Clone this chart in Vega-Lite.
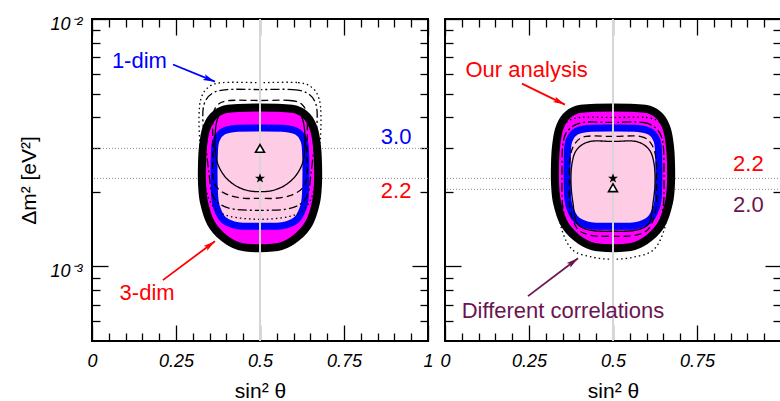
{
  "$schema": "https://vega.github.io/schema/vega-lite/v6.json",
  "background": "white",
  "padding": {"left": 17, "top": 14, "right": 0, "bottom": 0},
  "spacing": 17,
  "bounds": "flush",
  "config": {
    "view": {"stroke": "black", "strokeWidth": 2},
    "axis": {"domain": false, "grid": false, "ticks": true, "tickColor": "black", "tickWidth": 1.3, "labelFont": "Liberation Sans", "labelFontStyle": "italic", "labelFontSize": 18, "labelColor": "black", "labelOverlap": false, "labelFlush": false, "titleFont": "Liberation Sans", "titleFontSize": 21, "titleFontWeight": "normal", "titleColor": "black"},
    "text": {"font": "Liberation Sans"}
  },
  "datasets": {
    "hl": [{"p": "L", "y": 0.003}, {"p": "L", "y": 0.00227}, {"p": "R", "y": 0.00227}, {"p": "R", "y": 0.00205}],
    "mk": [{"p": "L", "k": "tri", "x": 0.5, "y": 0.003}, {"p": "L", "k": "star", "x": 0.5, "y": 0.00227}, {"p": "R", "k": "star", "x": 0.5, "y": 0.00227}, {"p": "R", "k": "tri", "x": 0.5, "y": 0.00208}],
    "ar": [
      {"p": "L", "g": "1-dim", "x": 0.241, "y": 0.00655, "x2": 0.366, "y2": 0.00558},
      {"p": "L", "g": "3-dim", "x": 0.211, "y": 0.000881, "x2": 0.366, "y2": 0.001265},
      {"p": "R", "g": "ours", "x": 0.229, "y": 0.00548, "x2": 0.357, "y2": 0.00451},
      {"p": "R", "g": "diff", "x": 0.247, "y": 0.000759, "x2": 0.396, "y2": 0.00108}
    ],
    "tx": [
      {"p": "L", "g": "1-dim", "t": "1-dim", "x": 0.141, "y": 0.00679},
      {"p": "L", "g": "1-dim", "t": "3.0", "x": 0.905, "y": 0.00335},
      {"p": "L", "g": "3-dim", "t": "2.2", "x": 0.905, "y": 0.00201},
      {"p": "L", "g": "3-dim", "t": "3-dim", "x": 0.164, "y": 0.00078},
      {"p": "R", "g": "ours", "t": "Our analysis", "x": 0.243, "y": 0.00625},
      {"p": "R", "g": "ours", "t": "2.2", "x": 0.903, "y": 0.002585},
      {"p": "R", "g": "diff", "t": "2.0", "x": 0.903, "y": 0.001766},
      {"p": "R", "g": "diff", "t": "Different correlations", "x": 0.351, "y": 0.00066}
    ],
    "ct": [
      {"p": "L", "c": "o", "i": 1, "x": 0.5, "y": 0.004388},
      {"p": "L", "c": "o", "i": 2, "x": 0.5655, "y": 0.004368},
      {"p": "L", "c": "o", "i": 3, "x": 0.6071, "y": 0.004308},
      {"p": "L", "c": "o", "i": 4, "x": 0.6399, "y": 0.004036},
      {"p": "L", "c": "o", "i": 5, "x": 0.6607, "y": 0.003578},
      {"p": "L", "c": "o", "i": 6, "x": 0.6696, "y": 0.003055},
      {"p": "L", "c": "o", "i": 7, "x": 0.6726, "y": 0.002609},
      {"p": "L", "c": "o", "i": 8, "x": 0.6726, "y": 0.002168},
      {"p": "L", "c": "o", "i": 9, "x": 0.6667, "y": 0.001817},
      {"p": "L", "c": "o", "i": 10, "x": 0.6458, "y": 0.001495},
      {"p": "L", "c": "o", "i": 11, "x": 0.6101, "y": 0.001313},
      {"p": "L", "c": "o", "i": 12, "x": 0.5625, "y": 0.001207},
      {"p": "L", "c": "o", "i": 13, "x": 0.5, "y": 0.001185},
      {"p": "L", "c": "o", "i": 14, "x": 0.4375, "y": 0.001207},
      {"p": "L", "c": "o", "i": 15, "x": 0.3899, "y": 0.001313},
      {"p": "L", "c": "o", "i": 16, "x": 0.3542, "y": 0.001495},
      {"p": "L", "c": "o", "i": 17, "x": 0.3333, "y": 0.001817},
      {"p": "L", "c": "o", "i": 18, "x": 0.3274, "y": 0.002168},
      {"p": "L", "c": "o", "i": 19, "x": 0.3274, "y": 0.002609},
      {"p": "L", "c": "o", "i": 20, "x": 0.3304, "y": 0.003055},
      {"p": "L", "c": "o", "i": 21, "x": 0.3393, "y": 0.003578},
      {"p": "L", "c": "o", "i": 22, "x": 0.3601, "y": 0.004036},
      {"p": "L", "c": "o", "i": 23, "x": 0.3929, "y": 0.004308},
      {"p": "L", "c": "o", "i": 24, "x": 0.4345, "y": 0.004368},
      {"p": "R", "c": "o", "i": 1, "x": 0.5, "y": 0.004388},
      {"p": "R", "c": "o", "i": 2, "x": 0.5655, "y": 0.004368},
      {"p": "R", "c": "o", "i": 3, "x": 0.6071, "y": 0.004308},
      {"p": "R", "c": "o", "i": 4, "x": 0.6399, "y": 0.004036},
      {"p": "R", "c": "o", "i": 5, "x": 0.6607, "y": 0.003578},
      {"p": "R", "c": "o", "i": 6, "x": 0.6696, "y": 0.003055},
      {"p": "R", "c": "o", "i": 7, "x": 0.6726, "y": 0.002609},
      {"p": "R", "c": "o", "i": 8, "x": 0.6726, "y": 0.002168},
      {"p": "R", "c": "o", "i": 9, "x": 0.6667, "y": 0.001817},
      {"p": "R", "c": "o", "i": 10, "x": 0.6458, "y": 0.001495},
      {"p": "R", "c": "o", "i": 11, "x": 0.6101, "y": 0.001313},
      {"p": "R", "c": "o", "i": 12, "x": 0.5625, "y": 0.001207},
      {"p": "R", "c": "o", "i": 13, "x": 0.5, "y": 0.001185},
      {"p": "R", "c": "o", "i": 14, "x": 0.4375, "y": 0.001207},
      {"p": "R", "c": "o", "i": 15, "x": 0.3899, "y": 0.001313},
      {"p": "R", "c": "o", "i": 16, "x": 0.3542, "y": 0.001495},
      {"p": "R", "c": "o", "i": 17, "x": 0.3333, "y": 0.001817},
      {"p": "R", "c": "o", "i": 18, "x": 0.3274, "y": 0.002168},
      {"p": "R", "c": "o", "i": 19, "x": 0.3274, "y": 0.002609},
      {"p": "R", "c": "o", "i": 20, "x": 0.3304, "y": 0.003055},
      {"p": "R", "c": "o", "i": 21, "x": 0.3393, "y": 0.003578},
      {"p": "R", "c": "o", "i": 22, "x": 0.3601, "y": 0.004036},
      {"p": "R", "c": "o", "i": 23, "x": 0.3929, "y": 0.004308},
      {"p": "R", "c": "o", "i": 24, "x": 0.4345, "y": 0.004368},
      {"p": "L", "c": "b", "i": 1, "x": 0.5, "y": 0.003628},
      {"p": "L", "c": "b", "i": 2, "x": 0.5744, "y": 0.003612},
      {"p": "L", "c": "b", "i": 3, "x": 0.6101, "y": 0.003513},
      {"p": "L", "c": "b", "i": 4, "x": 0.628, "y": 0.003292},
      {"p": "L", "c": "b", "i": 5, "x": 0.6354, "y": 0.002944},
      {"p": "L", "c": "b", "i": 6, "x": 0.6354, "y": 0.00197},
      {"p": "L", "c": "b", "i": 7, "x": 0.628, "y": 0.001718},
      {"p": "L", "c": "b", "i": 8, "x": 0.6071, "y": 0.001537},
      {"p": "L", "c": "b", "i": 9, "x": 0.5655, "y": 0.001461},
      {"p": "L", "c": "b", "i": 10, "x": 0.5, "y": 0.001454},
      {"p": "L", "c": "b", "i": 11, "x": 0.4345, "y": 0.001461},
      {"p": "L", "c": "b", "i": 12, "x": 0.3929, "y": 0.001537},
      {"p": "L", "c": "b", "i": 13, "x": 0.372, "y": 0.001718},
      {"p": "L", "c": "b", "i": 14, "x": 0.3646, "y": 0.00197},
      {"p": "L", "c": "b", "i": 15, "x": 0.3646, "y": 0.002944},
      {"p": "L", "c": "b", "i": 16, "x": 0.372, "y": 0.003292},
      {"p": "L", "c": "b", "i": 17, "x": 0.3899, "y": 0.003513},
      {"p": "L", "c": "b", "i": 18, "x": 0.4256, "y": 0.003612},
      {"p": "R", "c": "b", "i": 1, "x": 0.5, "y": 0.003628},
      {"p": "R", "c": "b", "i": 2, "x": 0.5744, "y": 0.003612},
      {"p": "R", "c": "b", "i": 3, "x": 0.6101, "y": 0.003513},
      {"p": "R", "c": "b", "i": 4, "x": 0.628, "y": 0.003292},
      {"p": "R", "c": "b", "i": 5, "x": 0.6354, "y": 0.002944},
      {"p": "R", "c": "b", "i": 6, "x": 0.6354, "y": 0.00197},
      {"p": "R", "c": "b", "i": 7, "x": 0.628, "y": 0.001718},
      {"p": "R", "c": "b", "i": 8, "x": 0.6071, "y": 0.001537},
      {"p": "R", "c": "b", "i": 9, "x": 0.5655, "y": 0.001461},
      {"p": "R", "c": "b", "i": 10, "x": 0.5, "y": 0.001454},
      {"p": "R", "c": "b", "i": 11, "x": 0.4345, "y": 0.001461},
      {"p": "R", "c": "b", "i": 12, "x": 0.3929, "y": 0.001537},
      {"p": "R", "c": "b", "i": 13, "x": 0.372, "y": 0.001718},
      {"p": "R", "c": "b", "i": 14, "x": 0.3646, "y": 0.00197},
      {"p": "R", "c": "b", "i": 15, "x": 0.3646, "y": 0.002944},
      {"p": "R", "c": "b", "i": 16, "x": 0.372, "y": 0.003292},
      {"p": "R", "c": "b", "i": 17, "x": 0.3899, "y": 0.003513},
      {"p": "R", "c": "b", "i": 18, "x": 0.4256, "y": 0.003612},
      {"p": "L", "c": "solid", "i": 1, "x": 0.5, "y": 0.004347},
      {"p": "L", "c": "solid", "i": 2, "x": 0.5893, "y": 0.004308},
      {"p": "L", "c": "solid", "i": 3, "x": 0.619, "y": 0.004113},
      {"p": "L", "c": "solid", "i": 4, "x": 0.631, "y": 0.003714},
      {"p": "L", "c": "solid", "i": 5, "x": 0.6339, "y": 0.003142},
      {"p": "L", "c": "solid", "i": 6, "x": 0.628, "y": 0.002658},
      {"p": "L", "c": "solid", "i": 7, "x": 0.6071, "y": 0.002334},
      {"p": "L", "c": "solid", "i": 8, "x": 0.5744, "y": 0.002128},
      {"p": "L", "c": "solid", "i": 9, "x": 0.5357, "y": 0.002026},
      {"p": "L", "c": "solid", "i": 10, "x": 0.5, "y": 0.002007},
      {"p": "L", "c": "solid", "i": 11, "x": 0.4643, "y": 0.002026},
      {"p": "L", "c": "solid", "i": 12, "x": 0.4256, "y": 0.002128},
      {"p": "L", "c": "solid", "i": 13, "x": 0.3929, "y": 0.002334},
      {"p": "L", "c": "solid", "i": 14, "x": 0.372, "y": 0.002658},
      {"p": "L", "c": "solid", "i": 15, "x": 0.3661, "y": 0.003142},
      {"p": "L", "c": "solid", "i": 16, "x": 0.369, "y": 0.003714},
      {"p": "L", "c": "solid", "i": 17, "x": 0.381, "y": 0.004113},
      {"p": "L", "c": "solid", "i": 18, "x": 0.4107, "y": 0.004308},
      {"p": "L", "c": "dashed", "i": 1, "x": 0.5, "y": 0.004685},
      {"p": "L", "c": "dashed", "i": 2, "x": 0.5893, "y": 0.004685},
      {"p": "L", "c": "dashed", "i": 3, "x": 0.625, "y": 0.004512},
      {"p": "L", "c": "dashed", "i": 4, "x": 0.6399, "y": 0.004036},
      {"p": "L", "c": "dashed", "i": 5, "x": 0.6399, "y": 0.002999},
      {"p": "L", "c": "dashed", "i": 6, "x": 0.6399, "y": 0.002313},
      {"p": "L", "c": "dashed", "i": 7, "x": 0.625, "y": 0.002064},
      {"p": "L", "c": "dashed", "i": 8, "x": 0.5893, "y": 0.001934},
      {"p": "L", "c": "dashed", "i": 9, "x": 0.5446, "y": 0.001886},
      {"p": "L", "c": "dashed", "i": 10, "x": 0.5, "y": 0.001886},
      {"p": "L", "c": "dashed", "i": 11, "x": 0.4554, "y": 0.001886},
      {"p": "L", "c": "dashed", "i": 12, "x": 0.4107, "y": 0.001934},
      {"p": "L", "c": "dashed", "i": 13, "x": 0.375, "y": 0.002064},
      {"p": "L", "c": "dashed", "i": 14, "x": 0.3601, "y": 0.002313},
      {"p": "L", "c": "dashed", "i": 15, "x": 0.3601, "y": 0.002999},
      {"p": "L", "c": "dashed", "i": 16, "x": 0.3601, "y": 0.004036},
      {"p": "L", "c": "dashed", "i": 17, "x": 0.375, "y": 0.004512},
      {"p": "L", "c": "dashed", "i": 18, "x": 0.4107, "y": 0.004685},
      {"p": "L", "c": "dashdot", "i": 1, "x": 0.5, "y": 0.005187},
      {"p": "L", "c": "dashdot", "i": 2, "x": 0.5982, "y": 0.005187},
      {"p": "L", "c": "dashdot", "i": 3, "x": 0.6429, "y": 0.004998},
      {"p": "L", "c": "dashdot", "i": 4, "x": 0.6667, "y": 0.004512},
      {"p": "L", "c": "dashdot", "i": 5, "x": 0.6696, "y": 0.003784},
      {"p": "L", "c": "dashdot", "i": 6, "x": 0.6607, "y": 0.002999},
      {"p": "L", "c": "dashdot", "i": 7, "x": 0.6518, "y": 0.002378},
      {"p": "L", "c": "dashdot", "i": 8, "x": 0.6429, "y": 0.00197},
      {"p": "L", "c": "dashdot", "i": 9, "x": 0.619, "y": 0.001784},
      {"p": "L", "c": "dashdot", "i": 10, "x": 0.5744, "y": 0.001702},
      {"p": "L", "c": "dashdot", "i": 11, "x": 0.5, "y": 0.001687},
      {"p": "L", "c": "dashdot", "i": 12, "x": 0.4256, "y": 0.001702},
      {"p": "L", "c": "dashdot", "i": 13, "x": 0.381, "y": 0.001784},
      {"p": "L", "c": "dashdot", "i": 14, "x": 0.3571, "y": 0.00197},
      {"p": "L", "c": "dashdot", "i": 15, "x": 0.3482, "y": 0.002378},
      {"p": "L", "c": "dashdot", "i": 16, "x": 0.3393, "y": 0.002999},
      {"p": "L", "c": "dashdot", "i": 17, "x": 0.3304, "y": 0.003784},
      {"p": "L", "c": "dashdot", "i": 18, "x": 0.3333, "y": 0.004512},
      {"p": "L", "c": "dashdot", "i": 19, "x": 0.3571, "y": 0.004998},
      {"p": "L", "c": "dashdot", "i": 20, "x": 0.4018, "y": 0.005187},
      {"p": "L", "c": "dotted", "i": 1, "x": 0.5, "y": 0.005533},
      {"p": "L", "c": "dotted", "i": 2, "x": 0.6131, "y": 0.005533},
      {"p": "L", "c": "dotted", "i": 3, "x": 0.6548, "y": 0.005284},
      {"p": "L", "c": "dotted", "i": 4, "x": 0.6756, "y": 0.004771},
      {"p": "L", "c": "dotted", "i": 5, "x": 0.6815, "y": 0.004036},
      {"p": "L", "c": "dotted", "i": 6, "x": 0.6786, "y": 0.003142},
      {"p": "L", "c": "dotted", "i": 7, "x": 0.6696, "y": 0.002491},
      {"p": "L", "c": "dotted", "i": 8, "x": 0.6577, "y": 0.00197},
      {"p": "L", "c": "dotted", "i": 9, "x": 0.6339, "y": 0.001718},
      {"p": "L", "c": "dotted", "i": 10, "x": 0.5893, "y": 0.001595},
      {"p": "L", "c": "dotted", "i": 11, "x": 0.5, "y": 0.001551},
      {"p": "L", "c": "dotted", "i": 12, "x": 0.4107, "y": 0.001595},
      {"p": "L", "c": "dotted", "i": 13, "x": 0.3661, "y": 0.001718},
      {"p": "L", "c": "dotted", "i": 14, "x": 0.3423, "y": 0.00197},
      {"p": "L", "c": "dotted", "i": 15, "x": 0.3304, "y": 0.002491},
      {"p": "L", "c": "dotted", "i": 16, "x": 0.3214, "y": 0.003142},
      {"p": "L", "c": "dotted", "i": 17, "x": 0.3185, "y": 0.004036},
      {"p": "L", "c": "dotted", "i": 18, "x": 0.3244, "y": 0.004771},
      {"p": "L", "c": "dotted", "i": 19, "x": 0.3452, "y": 0.005284},
      {"p": "L", "c": "dotted", "i": 20, "x": 0.3869, "y": 0.005533},
      {"p": "R", "c": "solid", "i": 1, "x": 0.5, "y": 0.0032},
      {"p": "R", "c": "solid", "i": 2, "x": 0.5685, "y": 0.0032},
      {"p": "R", "c": "solid", "i": 3, "x": 0.6071, "y": 0.002972},
      {"p": "R", "c": "solid", "i": 4, "x": 0.622, "y": 0.002609},
      {"p": "R", "c": "solid", "i": 5, "x": 0.625, "y": 0.002168},
      {"p": "R", "c": "solid", "i": 6, "x": 0.619, "y": 0.0018},
      {"p": "R", "c": "solid", "i": 7, "x": 0.6071, "y": 0.001495},
      {"p": "R", "c": "solid", "i": 8, "x": 0.5655, "y": 0.001401},
      {"p": "R", "c": "solid", "i": 9, "x": 0.5, "y": 0.001388},
      {"p": "R", "c": "solid", "i": 10, "x": 0.4345, "y": 0.001401},
      {"p": "R", "c": "solid", "i": 11, "x": 0.3929, "y": 0.001495},
      {"p": "R", "c": "solid", "i": 12, "x": 0.381, "y": 0.0018},
      {"p": "R", "c": "solid", "i": 13, "x": 0.375, "y": 0.002168},
      {"p": "R", "c": "solid", "i": 14, "x": 0.378, "y": 0.002609},
      {"p": "R", "c": "solid", "i": 15, "x": 0.3929, "y": 0.002972},
      {"p": "R", "c": "solid", "i": 16, "x": 0.4315, "y": 0.0032},
      {"p": "R", "c": "dashed", "i": 1, "x": 0.5, "y": 0.003353},
      {"p": "R", "c": "dashed", "i": 2, "x": 0.5804, "y": 0.003353},
      {"p": "R", "c": "dashed", "i": 3, "x": 0.6131, "y": 0.003142},
      {"p": "R", "c": "dashed", "i": 4, "x": 0.628, "y": 0.002733},
      {"p": "R", "c": "dashed", "i": 5, "x": 0.6295, "y": 0.002168},
      {"p": "R", "c": "dashed", "i": 6, "x": 0.628, "y": 0.001718},
      {"p": "R", "c": "dashed", "i": 7, "x": 0.6071, "y": 0.001427},
      {"p": "R", "c": "dashed", "i": 8, "x": 0.5655, "y": 0.001337},
      {"p": "R", "c": "dashed", "i": 9, "x": 0.5, "y": 0.001325},
      {"p": "R", "c": "dashed", "i": 10, "x": 0.4345, "y": 0.001337},
      {"p": "R", "c": "dashed", "i": 11, "x": 0.3929, "y": 0.001427},
      {"p": "R", "c": "dashed", "i": 12, "x": 0.372, "y": 0.001718},
      {"p": "R", "c": "dashed", "i": 13, "x": 0.3705, "y": 0.002168},
      {"p": "R", "c": "dashed", "i": 14, "x": 0.372, "y": 0.002733},
      {"p": "R", "c": "dashed", "i": 15, "x": 0.3869, "y": 0.003142},
      {"p": "R", "c": "dashed", "i": 16, "x": 0.4196, "y": 0.003353},
      {"p": "R", "c": "dashdot", "i": 1, "x": 0.5, "y": 0.003819},
      {"p": "R", "c": "dashdot", "i": 2, "x": 0.5893, "y": 0.003819},
      {"p": "R", "c": "dashdot", "i": 3, "x": 0.631, "y": 0.003578},
      {"p": "R", "c": "dashdot", "i": 4, "x": 0.6488, "y": 0.003142},
      {"p": "R", "c": "dashdot", "i": 5, "x": 0.6518, "y": 0.00227},
      {"p": "R", "c": "dashdot", "i": 6, "x": 0.6488, "y": 0.001718},
      {"p": "R", "c": "dashdot", "i": 7, "x": 0.628, "y": 0.001401},
      {"p": "R", "c": "dashdot", "i": 8, "x": 0.5833, "y": 0.001253},
      {"p": "R", "c": "dashdot", "i": 9, "x": 0.5, "y": 0.001219},
      {"p": "R", "c": "dashdot", "i": 10, "x": 0.4167, "y": 0.001253},
      {"p": "R", "c": "dashdot", "i": 11, "x": 0.372, "y": 0.001401},
      {"p": "R", "c": "dashdot", "i": 12, "x": 0.3512, "y": 0.001718},
      {"p": "R", "c": "dashdot", "i": 13, "x": 0.3482, "y": 0.00227},
      {"p": "R", "c": "dashdot", "i": 14, "x": 0.3512, "y": 0.003142},
      {"p": "R", "c": "dashdot", "i": 15, "x": 0.369, "y": 0.003578},
      {"p": "R", "c": "dashdot", "i": 16, "x": 0.4107, "y": 0.003819},
      {"p": "R", "c": "dotted", "i": 1, "x": 0.5, "y": 0.004},
      {"p": "R", "c": "dotted", "i": 2, "x": 0.5982, "y": 0.004},
      {"p": "R", "c": "dotted", "i": 3, "x": 0.6429, "y": 0.003784},
      {"p": "R", "c": "dotted", "i": 4, "x": 0.6607, "y": 0.003292},
      {"p": "R", "c": "dotted", "i": 5, "x": 0.6637, "y": 0.002491},
      {"p": "R", "c": "dotted", "i": 6, "x": 0.6637, "y": 0.0018},
      {"p": "R", "c": "dotted", "i": 7, "x": 0.6518, "y": 0.001401},
      {"p": "R", "c": "dotted", "i": 8, "x": 0.619, "y": 0.001163},
      {"p": "R", "c": "dotted", "i": 9, "x": 0.5595, "y": 0.00109},
      {"p": "R", "c": "dotted", "i": 10, "x": 0.5, "y": 0.00107},
      {"p": "R", "c": "dotted", "i": 11, "x": 0.4405, "y": 0.00109},
      {"p": "R", "c": "dotted", "i": 12, "x": 0.381, "y": 0.001163},
      {"p": "R", "c": "dotted", "i": 13, "x": 0.3482, "y": 0.001401},
      {"p": "R", "c": "dotted", "i": 14, "x": 0.3363, "y": 0.0018},
      {"p": "R", "c": "dotted", "i": 15, "x": 0.3363, "y": 0.002491},
      {"p": "R", "c": "dotted", "i": 16, "x": 0.3393, "y": 0.003292},
      {"p": "R", "c": "dotted", "i": 17, "x": 0.3571, "y": 0.003784},
      {"p": "R", "c": "dotted", "i": 18, "x": 0.4018, "y": 0.004}
    ]
  },
  "hconcat": [
    {
      "width": 336, "height": 322,
      "resolve": {"axis": {"x": "independent", "y": "independent"}},
      "layer": [
        {"data": {"name": "hl"}, "transform": [{"filter": "datum.p == 'L'"}],
         "mark": {"type": "rule", "stroke": "#8c8c8c", "strokeWidth": 1, "strokeDash": [1, 2]},
         "encoding": {"y": {"field": "y", "type": "quantitative", "scale": {"type": "log", "domain": [0.0005, 0.01], "nice": false}, "axis": null}}},
        {"data": {"name": "ct"}, "transform": [{"filter": "datum.p == 'L' && datum.c == 'o'"}],
         "mark": {"type": "line", "interpolate": "cardinal-closed", "stroke": "black", "strokeWidth": 8, "fill": "#ff00ff", "strokeJoin": "round"},
         "encoding": {
           "x": {"field": "x", "type": "quantitative", "scale": {"domain": [0, 1], "nice": false, "zero": false},
                 "axis": {"orient": "bottom", "values": [0, 0.25, 0.5, 0.75, 1], "labelExpr": "datum.value + ''", "offset": -16, "tickSize": 16, "labelPadding": 11, "title": "sin² θ", "titlePadding": 10}},
           "y": {"field": "y", "type": "quantitative", "scale": {"type": "log", "domain": [0.0005, 0.01], "nice": false},
                 "axis": {"orient": "left", "values": [0.001, 0.01], "labelExpr": "datum.value == 0.01 ? '10⁻²' : '10⁻³'", "offset": -16, "tickSize": 16, "labelPadding": 10, "labelOffset": 5, "title": "Δm² [eV²]", "titlePadding": 10}},
           "order": {"field": "i", "type": "quantitative"}}},
        {"data": {"name": "ct"}, "transform": [{"filter": "datum.p == 'L' && datum.c == 'b'"}],
         "mark": {"type": "line", "interpolate": "cardinal-closed", "stroke": "#0000ff", "strokeWidth": 7, "fill": "#ffcce6", "strokeJoin": "round"},
         "encoding": {
           "x": {"field": "x", "type": "quantitative", "scale": {"domain": [0, 1], "nice": false, "zero": false},
                 "axis": {"orient": "top", "values": [0, 0.25, 0.5, 0.75, 1], "labels": false, "offset": -16, "tickSize": 16, "title": null}},
           "y": {"field": "y", "type": "quantitative", "scale": {"type": "log", "domain": [0.0005, 0.01], "nice": false},
                 "axis": {"orient": "right", "values": [0.001, 0.01], "labels": false, "offset": -16, "tickSize": 16, "title": null}},
           "order": {"field": "i", "type": "quantitative"}}},
        {"data": {"name": "ct"}, "transform": [{"filter": "datum.p == 'L' && datum.c != 'o' && datum.c != 'b'"}],
         "mark": {"type": "line", "interpolate": "cardinal-closed", "stroke": "black", "strokeWidth": 1.3},
         "encoding": {
           "x": {"field": "x", "type": "quantitative", "axis": {"orient": "bottom", "values": [0.05, 0.1, 0.15, 0.2, 0.3, 0.35, 0.4, 0.45, 0.55, 0.6, 0.65, 0.7, 0.8, 0.85, 0.9, 0.95], "labels": false, "offset": -8, "tickSize": 8, "title": null}},
           "y": {"field": "y", "type": "quantitative", "axis": {"orient": "left", "values": [0.0006, 0.0007, 0.0008, 0.0009, 0.002, 0.003, 0.004, 0.005, 0.006, 0.007, 0.008, 0.009], "labels": false, "offset": -8, "tickSize": 8, "title": null}},
           "strokeDash": {"field": "c", "type": "nominal", "scale": {"domain": ["solid", "dashed", "dashdot", "dotted"], "range": [[1, 0], [7, 4], [9, 3, 2, 3], [1.5, 3]]}, "legend": null},
           "order": {"field": "i", "type": "quantitative"}}},
        {"data": {"values": [{}]}, "mark": {"type": "rule", "stroke": "#d6d6d6", "strokeWidth": 2},
         "encoding": {"x": {"datum": 0.5, "type": "quantitative", "axis": null}}},
        {"data": {"name": "mk"}, "transform": [{"filter": "datum.p == 'L' && datum.k == 'star'"}],
         "mark": {"type": "point", "shape": "M0,-1L0.235,-0.324L0.951,-0.309L0.38,0.124L0.588,0.809L0,0.4L-0.588,0.809L-0.38,0.124L-0.951,-0.309L-0.235,-0.324Z", "filled": true, "color": "black", "size": 110, "opacity": 1},
         "encoding": {
           "x": {"field": "x", "type": "quantitative", "axis": {"orient": "top", "values": [0.05, 0.1, 0.15, 0.2, 0.3, 0.35, 0.4, 0.45, 0.55, 0.6, 0.65, 0.7, 0.8, 0.85, 0.9, 0.95], "labels": false, "offset": -8, "tickSize": 8, "title": null}},
           "y": {"field": "y", "type": "quantitative", "axis": {"orient": "right", "values": [0.0006, 0.0007, 0.0008, 0.0009, 0.002, 0.003, 0.004, 0.005, 0.006, 0.007, 0.008, 0.009], "labels": false, "offset": -8, "tickSize": 8, "title": null}}}},
        {"data": {"name": "mk"}, "transform": [{"filter": "datum.p == 'L' && datum.k == 'tri'"}],
         "mark": {"type": "point", "shape": "triangle-up", "filled": true, "fill": "white", "stroke": "black", "strokeWidth": 1.6, "size": 80, "opacity": 1},
         "encoding": {"x": {"field": "x", "type": "quantitative", "axis": null}, "y": {"field": "y", "type": "quantitative", "axis": null}}},
        {"data": {"name": "ar"}, "transform": [{"filter": "datum.p == 'L'"}],
         "mark": {"type": "rule", "strokeWidth": 1.8},
         "encoding": {"x": {"field": "x", "type": "quantitative", "axis": null}, "y": {"field": "y", "type": "quantitative", "axis": null}, "x2": {"field": "x2"}, "y2": {"field": "y2"},
           "color": {"field": "g", "type": "nominal", "scale": {"domain": ["1-dim", "3-dim", "ours", "diff"], "range": ["#0000ff", "#ff0000", "#ff0000", "#6a1452"]}, "legend": null}}},
        {"data": {"name": "ar"}, "transform": [{"filter": "datum.p == 'L'"}, {"calculate": "atan2((datum.x2 - datum.x) * 336, (log(datum.y2) - log(datum.y)) / LN10 * 248) * 180 / PI", "as": "ang"}],
         "mark": {"type": "point", "shape": "M0,0L0.5,2L0,1.6L-0.5,2Z", "filled": true, "size": 144, "opacity": 1, "strokeWidth": 0},
         "encoding": {"x": {"field": "x2", "type": "quantitative", "axis": null}, "y": {"field": "y2", "type": "quantitative", "axis": null}, "angle": {"field": "ang", "type": "quantitative", "scale": null},
           "color": {"field": "g", "type": "nominal", "scale": {"domain": ["1-dim", "3-dim", "ours", "diff"], "range": ["#0000ff", "#ff0000", "#ff0000", "#6a1452"]}, "legend": null}}},
        {"data": {"name": "tx"}, "transform": [{"filter": "datum.p == 'L'"}],
         "mark": {"type": "text", "font": "Liberation Sans", "fontSize": 22, "align": "center", "baseline": "middle"},
         "encoding": {"x": {"field": "x", "type": "quantitative", "axis": null}, "y": {"field": "y", "type": "quantitative", "axis": null}, "text": {"field": "t"},
           "color": {"field": "g", "type": "nominal", "scale": {"domain": ["1-dim", "3-dim", "ours", "diff"], "range": ["#0000ff", "#ff0000", "#ff0000", "#6a1452"]}, "legend": null}}}
      ]
    },
    {
      "width": 336, "height": 322,
      "resolve": {"axis": {"x": "independent", "y": "independent"}},
      "layer": [
        {"data": {"name": "hl"}, "transform": [{"filter": "datum.p == 'R'"}],
         "mark": {"type": "rule", "stroke": "#8c8c8c", "strokeWidth": 1, "strokeDash": [1, 2]},
         "encoding": {"y": {"field": "y", "type": "quantitative", "scale": {"type": "log", "domain": [0.0005, 0.01], "nice": false}, "axis": null}}},
        {"data": {"name": "ct"}, "transform": [{"filter": "datum.p == 'R' && datum.c == 'o'"}],
         "mark": {"type": "line", "interpolate": "cardinal-closed", "stroke": "black", "strokeWidth": 8, "fill": "#ff00ff", "strokeJoin": "round"},
         "encoding": {
           "x": {"field": "x", "type": "quantitative", "scale": {"domain": [0, 1], "nice": false, "zero": false},
                 "axis": {"orient": "bottom", "values": [0, 0.25, 0.5, 0.75, 1], "labelExpr": "datum.value == 1 ? '' : datum.value + ''", "offset": -16, "tickSize": 16, "labelPadding": 11, "title": "sin² θ", "titlePadding": 10}},
           "y": {"field": "y", "type": "quantitative", "scale": {"type": "log", "domain": [0.0005, 0.01], "nice": false},
                 "axis": {"orient": "left", "values": [0.001, 0.01], "labels": false, "offset": -16, "tickSize": 16, "title": null}},
           "order": {"field": "i", "type": "quantitative"}}},
        {"data": {"name": "ct"}, "transform": [{"filter": "datum.p == 'R' && datum.c == 'b'"}],
         "mark": {"type": "line", "interpolate": "cardinal-closed", "stroke": "#0000ff", "strokeWidth": 7, "fill": "#ffcce6", "strokeJoin": "round"},
         "encoding": {
           "x": {"field": "x", "type": "quantitative", "scale": {"domain": [0, 1], "nice": false, "zero": false},
                 "axis": {"orient": "top", "values": [0, 0.25, 0.5, 0.75, 1], "labels": false, "offset": -16, "tickSize": 16, "title": null}},
           "y": {"field": "y", "type": "quantitative", "scale": {"type": "log", "domain": [0.0005, 0.01], "nice": false},
                 "axis": {"orient": "right", "values": [0.001, 0.01], "labels": false, "offset": -16, "tickSize": 16, "title": null}},
           "order": {"field": "i", "type": "quantitative"}}},
        {"data": {"name": "ct"}, "transform": [{"filter": "datum.p == 'R' && datum.c != 'o' && datum.c != 'b'"}],
         "mark": {"type": "line", "interpolate": "cardinal-closed", "stroke": "black", "strokeWidth": 1.3},
         "encoding": {
           "x": {"field": "x", "type": "quantitative", "axis": {"orient": "bottom", "values": [0.05, 0.1, 0.15, 0.2, 0.3, 0.35, 0.4, 0.45, 0.55, 0.6, 0.65, 0.7, 0.8, 0.85, 0.9, 0.95], "labels": false, "offset": -8, "tickSize": 8, "title": null}},
           "y": {"field": "y", "type": "quantitative", "axis": {"orient": "left", "values": [0.0006, 0.0007, 0.0008, 0.0009, 0.002, 0.003, 0.004, 0.005, 0.006, 0.007, 0.008, 0.009], "labels": false, "offset": -8, "tickSize": 8, "title": null}},
           "strokeDash": {"field": "c", "type": "nominal", "scale": {"domain": ["solid", "dashed", "dashdot", "dotted"], "range": [[1, 0], [7, 4], [9, 3, 2, 3], [1.5, 3]]}, "legend": null},
           "order": {"field": "i", "type": "quantitative"}}},
        {"data": {"values": [{}]}, "mark": {"type": "rule", "stroke": "#d6d6d6", "strokeWidth": 2},
         "encoding": {"x": {"datum": 0.5, "type": "quantitative", "axis": null}}},
        {"data": {"name": "mk"}, "transform": [{"filter": "datum.p == 'R' && datum.k == 'star'"}],
         "mark": {"type": "point", "shape": "M0,-1L0.235,-0.324L0.951,-0.309L0.38,0.124L0.588,0.809L0,0.4L-0.588,0.809L-0.38,0.124L-0.951,-0.309L-0.235,-0.324Z", "filled": true, "color": "black", "size": 110, "opacity": 1},
         "encoding": {
           "x": {"field": "x", "type": "quantitative", "axis": {"orient": "top", "values": [0.05, 0.1, 0.15, 0.2, 0.3, 0.35, 0.4, 0.45, 0.55, 0.6, 0.65, 0.7, 0.8, 0.85, 0.9, 0.95], "labels": false, "offset": -8, "tickSize": 8, "title": null}},
           "y": {"field": "y", "type": "quantitative", "axis": {"orient": "right", "values": [0.0006, 0.0007, 0.0008, 0.0009, 0.002, 0.003, 0.004, 0.005, 0.006, 0.007, 0.008, 0.009], "labels": false, "offset": -8, "tickSize": 8, "title": null}}}},
        {"data": {"name": "mk"}, "transform": [{"filter": "datum.p == 'R' && datum.k == 'tri'"}],
         "mark": {"type": "point", "shape": "triangle-up", "filled": true, "fill": "white", "stroke": "black", "strokeWidth": 1.6, "size": 80, "opacity": 1},
         "encoding": {"x": {"field": "x", "type": "quantitative", "axis": null}, "y": {"field": "y", "type": "quantitative", "axis": null}}},
        {"data": {"name": "ar"}, "transform": [{"filter": "datum.p == 'R'"}],
         "mark": {"type": "rule", "strokeWidth": 1.8},
         "encoding": {"x": {"field": "x", "type": "quantitative", "axis": null}, "y": {"field": "y", "type": "quantitative", "axis": null}, "x2": {"field": "x2"}, "y2": {"field": "y2"},
           "color": {"field": "g", "type": "nominal", "scale": {"domain": ["1-dim", "3-dim", "ours", "diff"], "range": ["#0000ff", "#ff0000", "#ff0000", "#6a1452"]}, "legend": null}}},
        {"data": {"name": "ar"}, "transform": [{"filter": "datum.p == 'R'"}, {"calculate": "atan2((datum.x2 - datum.x) * 336, (log(datum.y2) - log(datum.y)) / LN10 * 248) * 180 / PI", "as": "ang"}],
         "mark": {"type": "point", "shape": "M0,0L0.5,2L0,1.6L-0.5,2Z", "filled": true, "size": 144, "opacity": 1, "strokeWidth": 0},
         "encoding": {"x": {"field": "x2", "type": "quantitative", "axis": null}, "y": {"field": "y2", "type": "quantitative", "axis": null}, "angle": {"field": "ang", "type": "quantitative", "scale": null},
           "color": {"field": "g", "type": "nominal", "scale": {"domain": ["1-dim", "3-dim", "ours", "diff"], "range": ["#0000ff", "#ff0000", "#ff0000", "#6a1452"]}, "legend": null}}},
        {"data": {"name": "tx"}, "transform": [{"filter": "datum.p == 'R'"}],
         "mark": {"type": "text", "font": "Liberation Sans", "fontSize": 22, "align": "center", "baseline": "middle"},
         "encoding": {"x": {"field": "x", "type": "quantitative", "axis": null}, "y": {"field": "y", "type": "quantitative", "axis": null}, "text": {"field": "t"},
           "color": {"field": "g", "type": "nominal", "scale": {"domain": ["1-dim", "3-dim", "ours", "diff"], "range": ["#0000ff", "#ff0000", "#ff0000", "#6a1452"]}, "legend": null}}}
      ]
    }
  ]
}
